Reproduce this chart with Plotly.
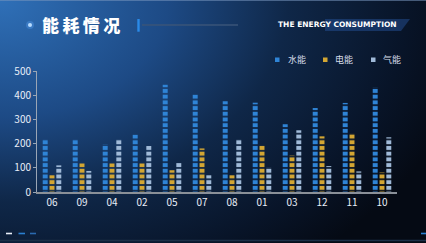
import base64
import plotly.graph_objects as go

# ---- data ----
months = ["06", "09", "04", "02", "05", "07", "08", "01", "03", "12", "11", "10"]
water = [218, 218, 198, 237, 443, 403, 375, 369, 280, 347, 368, 432]
power = [69, 118, 118, 118, 90, 180, 69, 193, 151, 230, 242, 81]
gas = [110, 87, 218, 190, 120, 69, 218, 103, 255, 107, 85, 226]
series_names = ["水能", "电能", "气能"]
y_ticks = [0, 100, 200, 300, 400, 500]

colors = ["#2f84d6", "#d3a633", "#a0bad8"]

W, H = 426, 243
L, R, T, B = 37, 397, 71, 192
PW, PH = R - L, B - T


def px(x):
    return (x - L) / PW


def py(y):
    return (B - y) / PH


svg = f'''<svg xmlns="http://www.w3.org/2000/svg" width="{W}" height="{H}" viewBox="0 0 {W} {H}">
<defs><radialGradient id="g" gradientUnits="userSpaceOnUse" cx="0" cy="0" r="480"
 gradientTransform="scale(1,0.7)">
<stop offset="0" stop-color="#2f70b8"/>
<stop offset="0.35" stop-color="#1d4a85"/>
<stop offset="0.6" stop-color="#0f2748"/>
<stop offset="0.85" stop-color="#081428"/>
<stop offset="1" stop-color="#050a14"/>
</radialGradient></defs>
<rect width="{W}" height="{H}" fill="url(#g)"/>
</svg>'''
bg_uri = "data:image/svg+xml;base64," + base64.b64encode(svg.encode()).decode()

fig = go.Figure()
for name, vals, col in zip(series_names, [water, power, gas], colors):
    fig.add_trace(go.Bar(
        x=months, y=vals, name=name, showlegend=False,
        marker=dict(color=col, line=dict(width=0),
                    pattern=dict(shape="-", size=5.7, solidity=0.7, fgcolor=col,
                                 fillmode="replace")),
    ))

shapes = []
annotations = []

# title decorations
shapes.append(dict(type="circle", xref="paper", yref="paper", x0=px(26), x1=px(34), y0=py(29), y1=py(21),
                   fillcolor="rgba(90,160,240,0.35)", line=dict(width=0), layer="above"))
shapes.append(dict(type="circle", xref="paper", yref="paper", x0=px(28), x1=px(32), y0=py(27), y1=py(23),
                   fillcolor="#b8dcff", line=dict(width=0), layer="above"))
shapes.append(dict(type="rect", xref="paper", yref="paper", x0=px(137.3), x1=px(139.7), y0=py(31.7), y1=py(19),
                   fillcolor="#2a8ae8", line=dict(width=0)))
shapes.append(dict(type="line", xref="paper", yref="paper", x0=px(142), x1=px(238), y0=py(25), y1=py(25),
                   line=dict(color="#3a5578", width=1.5)))
# english banner
shapes.append(dict(type="path", xref="paper", yref="paper",
                   path=f"M{px(325)},{py(19)} L{px(410)},{py(19)} L{px(401)},{py(31)} L{px(325)},{py(31)} Z",
                   fillcolor="rgba(35,80,150,0.5)", line=dict(width=0)))
# top border
shapes.append(dict(type="line", xref="paper", yref="paper", x0=px(0), x1=px(426), y0=py(0.5), y1=py(0.5),
                   line=dict(color="rgba(120,150,190,0.55)", width=1)))
# bottom line and dashes
shapes.append(dict(type="line", xref="paper", yref="paper", x0=px(0), x1=px(426), y0=py(240.5), y1=py(240.5),
                   line=dict(color="#1c3048", width=1.5)))
for (xa, xb, c) in [(6, 12, "#e8eef8"), (18.5, 25, "#2a7fd0"), (30, 36, "#2a6ab0"), (421, 426, "#2a7fd0")]:
    shapes.append(dict(type="line", xref="paper", yref="paper", x0=px(xa), x1=px(xb), y0=py(233.5), y1=py(233.5),
                       line=dict(color=c, width=1.6)))

# legend (manual)
for (sx, tx, name, col) in [(275, 286, series_names[0], colors[0]), (323, 333, series_names[1], colors[1]),
                            (371, 381, series_names[2], colors[2])]:
    shapes.append(dict(type="rect", xref="paper", yref="paper", x0=px(sx), x1=px(sx + 4.5), y0=py(62), y1=py(57.5),
                       fillcolor=col, line=dict(width=0)))
    annotations.append(dict(xref="paper", yref="paper", x=px(tx), y=py(59.5), xanchor="left", yanchor="middle",
                            text=name, showarrow=False,
                            font=dict(family="Noto Sans CJK SC", size=9, color="#d5dce8")))

annotations.append(dict(xref="paper", yref="paper", x=px(40), y=py(25), xanchor="left", yanchor="middle",
                        text="能\u2009耗\u2009情\u2009况", showarrow=False,
                        font=dict(family="Noto Sans CJK SC", size=17, color="#ffffff", weight=900)))
annotations.append(dict(xref="paper", yref="paper", x=px(276), y=py(25), xanchor="left", yanchor="middle",
                        text="THE ENERGY CONSUMPTION", showarrow=False,
                        font=dict(family="DejaVu Sans", size=7.5, color="#ffffff", weight="bold")))

fig.update_layout(
    width=W, height=H,
    margin=dict(l=L, r=W - R, t=T, b=H - B, pad=0),
    paper_bgcolor="#0a1a30", plot_bgcolor="rgba(0,0,0,0)",
    barmode="group", bargap=0.32, bargroupgap=0.27,
    showlegend=False,
    images=[dict(source=bg_uri, xref="paper", yref="paper", x=px(0), y=py(0),
                 sizex=W / PW, sizey=H / PH, xanchor="left", yanchor="top",
                 sizing="stretch", layer="below")],
    shapes=shapes, annotations=annotations,
    font=dict(family="Noto Sans CJK SC", color="#e8eef8", size=10),
)
fig.update_xaxes(showline=True, linecolor="#8a9098", linewidth=2, showgrid=False, ticks="",
                 tickfont=dict(size=10, color="#e8eef8"), zeroline=False)
fig.update_yaxes(range=[0, 500], tickvals=y_ticks, showline=True, linecolor="#9aa5b5", linewidth=1,
                 ticks="outside", ticklen=3, tickcolor="#9aa5b5", showgrid=False, zeroline=False,
                 tickfont=dict(size=10, color="#e8eef8"))

fig.write_html("out.html")
